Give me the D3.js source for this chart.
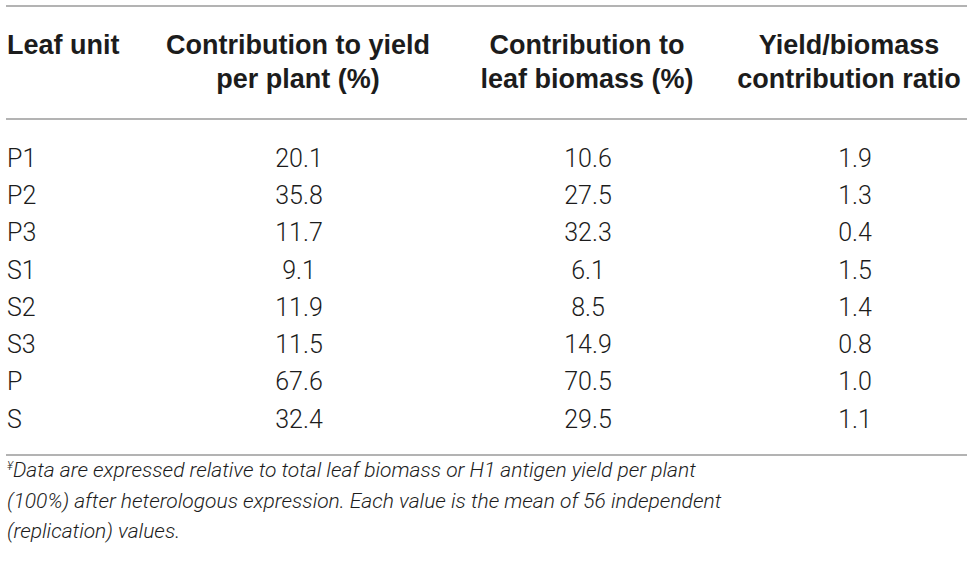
<!DOCTYPE html>
<html>
<head>
<meta charset="utf-8">
<script src="https://cdn.jsdelivr.net/npm/d3@7"></script>
<style>
  html, body { margin: 0; padding: 0; background: #fff; }
  svg { display: block; }
</style>
</head>
<body>
<div id="table"></div>
<script>
// table values
var units = ["P1", "P2", "P3", "S1", "S2", "S3", "P", "S"];
var yieldContribution = [20.1, 35.8, 11.7, 9.1, 11.9, 11.5, 67.6, 32.4];
var biomassContribution = [10.6, 27.5, 32.3, 6.1, 8.5, 14.9, 70.5, 29.5];
var ratio = [1.9, 1.3, 0.4, 1.5, 1.4, 0.8, 1.0, 1.1];

var columns = ["unit", "yield", "biomass", "ratio"];
var headers = [
	["Leaf unit"],
	["Contribution to yield", "per plant (%)"],
	["Contribution to", "leaf biomass (%)"],
	["Yield/biomass", "contribution ratio"]
];
var footnote = [
	"Data are expressed relative to total leaf biomass or H1 antigen yield per plant",
	"(100%) after heterologous expression. Each value is the mean of 56 independent",
	"(replication) values."
];

var width = 974, height = 576;
var ink = "#1c1c1c";
var rule = "#9a9a9a";

var svg = d3.select("#table")
	.append("svg")
	.attr("width", width)
	.attr("height", height);

// column positions (header centre and cell centre)
var headX = d3.scaleOrdinal().domain(columns).range([7, 298, 587, 849]);
var cellX = d3.scaleOrdinal().domain(columns).range([7, 299, 588, 855]);
var anchor = function(c) { return c == "unit" ? "start" : "middle"; };

var y = d3.scalePoint().domain(units).range([166.7, 427.7]);

// rules
[6, 119, 455].forEach(function(ry) {
	svg.append("line")
		.attr("x1", 6).attr("x2", 967)
		.attr("y1", ry).attr("y2", ry)
		.style("stroke", rule)
		.style("stroke-width", 1.6);
});

// header
var head = svg.selectAll(".head")
	.data(headers)
	.enter().append("text")
	.attr("class", "head")
	.attr("x", function(d, i) { return headX(columns[i]); })
	.attr("y", 54)
	.attr("text-anchor", function(d, i) { return anchor(columns[i]); })
	.style("font-family", "'Liberation Sans', Arial, sans-serif")
	.style("font-weight", "bold")
	.style("font-size", "27px")
	.style("fill", ink);

head.selectAll("tspan")
	.data(function(d) { return d; })
	.enter().append("tspan")
	.attr("x", function() { return d3.select(this.parentNode).attr("x"); })
	.attr("dy", function(d, i) { return i == 0 ? 0 : 34; })
	.text(function(d) { return d; });

// body rows
var fmt = d3.format(".1f");
var rows = units.map(function(u, i) {
	return { unit: u, yield: fmt(yieldContribution[i]), biomass: fmt(biomassContribution[i]), ratio: fmt(ratio[i]) };
});

var row = svg.selectAll(".row")
	.data(rows)
	.enter().append("g")
	.attr("class", "row")
	.attr("transform", function(d) { return "translate(0," + y(d.unit) + ")"; });

row.selectAll("text")
	.data(function(d) { return columns.map(function(c) { return { col: c, v: d[c] }; }); })
	.enter().append("text")
	.attr("x", function(d) { return cellX(d.col); })
	.attr("text-anchor", function(d) { return anchor(d.col); })
	.style("font-family", "Roboto, 'Liberation Sans', sans-serif")
	.style("font-weight", 300)
	.style("font-size", "25px")
	.style("fill", ink)
	.text(function(d) { return d.v; });

// footnote
var note = svg.append("text")
	.attr("x", 7)
	.attr("y", 477)
	.style("font-family", "Roboto, 'Liberation Sans', sans-serif")
	.style("font-weight", 300)
	.style("font-style", "italic")
	.style("font-size", "21px")
	.style("fill", ink);

note.append("tspan")
	.attr("dy", -7)
	.style("font-size", "12px")
	.text("¥");

note.selectAll(".line")
	.data(footnote)
	.enter().append("tspan")
	.attr("class", "line")
	.attr("x", function(d, i) { return i == 0 ? null : 7; })
	.attr("dy", function(d, i) { return i == 0 ? 7 : 30.5; })
	.text(function(d) { return d; });
</script>
</body>
</html>
